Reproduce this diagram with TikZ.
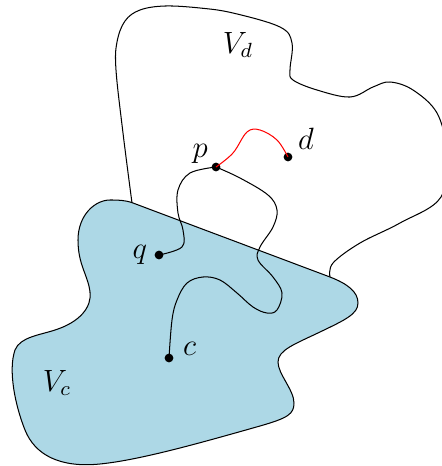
\documentclass[tikz,border=0pt]{standalone}
\usepackage{xcolor}
\usepackage{tikz}
\usetikzlibrary{positioning}
\definecolor{regionblue}{RGB}{173, 216, 230}
\tikzset{
 region/.style={
 draw=black,
 fill=regionblue,
 line join=round
 },
 border/.style={
 draw=black
 },
 point/.style={
 circle,
 fill=black,
 inner sep=0pt,
 minimum size=1.2mm
 },
 tag/.style={
 inner sep=0pt,
 font=\large
 },
 walk/.style={draw=black},
 redwalk/.style={draw=red}
}

\begin{document}
\begin{tikzpicture}[x=0.0137cm, y=-0.0137cm]
 \useasboundingbox (0,0) rectangle (441,466);
 % outer region V_d
 \draw[border] plot[smooth, tension=0.6] coordinates {(132,203) (123,133) (116,70) (117,42) (125,21) (140,10) (165,6) (200,8) (233,13) (280,27) (292,43) (290,70) (293,80) (317,90) (350,97) (373,87) (390,82) (413,90) (437,113) (446,150) (441,197) (400,223) (360,243) (333,263) (330,277)};
 % blue region V_c
 \draw[region] (133,203) -- (330,277)
 .. controls (348,284) and (358,292) .. (358,303)
 .. controls (358,314) and (345,320) .. (320,332)
 .. controls (295,344) and (278,350) .. (278,362)
 .. controls (278,374) and (294,390) .. (294,403)
 .. controls (294,414) and (288,418) .. (260,426)
 .. controls (200,443) and (140,460) .. (100,464)
 .. controls (60,468) and (35,455) .. (25,430)
 .. controls (15,405) and (8,370) .. (15,350)
 .. controls (20,337) and (40,335) .. (55,330)
 .. controls (80,322) and (92,307) .. (90,292)
 .. controls (88,275) and (78,265) .. (78,240)
 .. controls (78,215) and (95,200) .. (110,200)
 .. controls (118,200) and (125,200) .. (133,203) -- cycle;
 \node[point] (q) at (159,255) {};
 \node[point] (p) at (216,167) {};
 \node[point] (c) at (169,358) {};
 \node[point] (d) at (288,157) {};
 \node[tag, left=0.9mm of q] {$q$};
 \node[tag, above left=0mm and 0.6mm of p] {$p$};
 \node[tag, right=1.2mm of c, yshift=1.2mm] {$c$};
 \node[tag, above right=0.45mm and 0.85mm of d] {$d$};
 \node[tag] at (238,45) {$V_d$};
 \node[tag] at (57,383) {$V_c$};
 \draw[walk] plot[smooth, tension=0.6] coordinates {(q.center) (182,247) (183,230) (178,213) (178,190) (190,173) (p.center)};
 \draw[walk] plot[smooth, tension=0.6] coordinates {(p.center) (240,178) (268,195) (277,210) (273,227) (260,247) (258,260) (273,277) (282,293) (277,310) (267,313) (253,307) (237,293) (220,280) (203,277) (187,283) (177,300) (172,320) (c.center)};
 \draw[redwalk] plot[smooth, tension=0.6] coordinates {(p.center) (233,153) (247,132) (260,130) (277,140) (d.center)};
\end{tikzpicture}
\end{document}
